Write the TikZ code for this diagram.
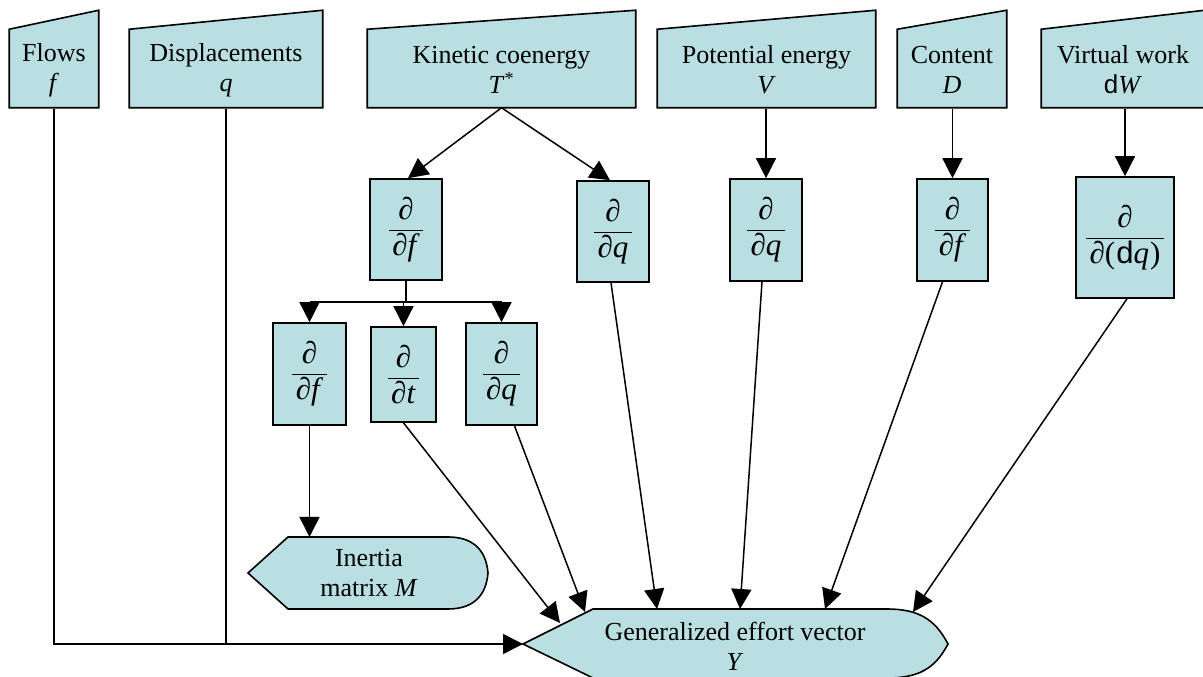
\documentclass[tikz,border=0pt]{standalone}
\usepackage{fontspec}
\setmainfont{Liberation Serif}
\newfontfamily\sansd{Liberation Sans}
\usetikzlibrary{arrows.meta,backgrounds}
\definecolor{boxfill}{RGB}{185,223,227}
\newcommand\dfr[1]{$\displaystyle\frac{\mbox{∂}\rule[-3pt]{0pt}{3pt}}{\mbox{\hspace{3.5pt}∂#1\hspace{3.5pt}}\rule{0pt}{24pt}}$}
\begin{document}
\begin{tikzpicture}[x=1pt,y=1pt,line width=1.5pt,
  inp/.style={inner sep=0pt, minimum height=77pt, align=center, font=\fontsize{26}{30}\selectfont},
  der/.style={draw, fill=boxfill, line width=1.6pt, inner sep=0pt, font=\fontsize{31}{36}\selectfont},
  lbl/.style={inner sep=0pt, align=center, font=\fontsize{26}{30}\selectfont},
  shp/.style={draw, fill=boxfill, line width=1.6pt, line join=miter},
  arr/.style={line width=1.5pt, -{Triangle[length=20pt,width=20pt]}}]
\useasboundingbox (0,0) rectangle (1203,677);

% input (manual input) shapes
\node[inp, minimum width=88pt]  (flows) at (54,607)   {Flows\\\textit{f}};
\node[inp, minimum width=192pt] (disp)  at (226,607)  {Displacements\\\textit{q}};
\node[inp, minimum width=267pt] (kin)   at (501.5,607){Kinetic coenergy\\\textit{T}\textsuperscript{*}};
\node[inp, minimum width=217pt] (pot)   at (766.5,607){Potential energy\\\textit{V}};
\node[inp, minimum width=108pt] (cont)  at (952,607)  {Content\\\textit{D}};
\node[inp, minimum width=162pt] (vw)    at (1123,607) {Virtual work\\{\sansd d}\textit{W}};

% derivative boxes, row 1
\node[der, minimum width=72pt, minimum height=101pt] (d1) at (406,447.5) {\dfr{\textit{f}}};
\node[der, minimum width=72pt, minimum height=101pt] (d2) at (613,445.5) {\dfr{\textit{q}}};
\node[der, minimum width=72pt, minimum height=102pt] (d3) at (766,447)   {\dfr{\textit{q}}};
\node[der, minimum width=71pt, minimum height=102pt] (d4) at (952.5,447) {\dfr{\textit{f}}};
\node[der, minimum width=98pt, minimum height=121pt] (d5) at (1125,439.5) {\dfr{(\hspace{1pt}{\sansd d}\textit{q}\hspace{1pt})}};

% derivative boxes, row 2
\node[der, minimum width=73pt, minimum height=102pt] (r1) at (309.5,303)   {\dfr{\textit{f}}};
\node[der, minimum width=65pt, minimum height=95pt]  (r2) at (403.5,302.5) {\dfr{\textit{t}}};
\node[der, minimum width=71pt, minimum height=102pt] (r3) at (501.5,303)   {\dfr{\textit{q}}};

% outputs (text)
\node[lbl] (inertia) at (369,104) {Inertia\\matrix \textit{M}};
\node[lbl] (out) at (735,31) {Generalized effort vector\\\textit{Y}};

\coordinate (intop)  at (309,140);
\coordinate (outtip) at (523,33);
\coordinate (br)     at (405,375);
\coordinate (oA) at (560,54);
\coordinate (oB) at (585,65);
\coordinate (oC) at (657,68);
\coordinate (oD) at (740,68);
\coordinate (oE) at (825,68);
\coordinate (oF) at (913,65);

\begin{scope}[on background layer]
  \foreach \n in {flows,disp,kin,pot,cont,vw}
    \draw[shp] ([yshift=1.5pt]\n.south west) -- ([yshift=1.5pt]\n.south east) -- ([yshift=20.5pt]\n.north east) -- ([yshift=1.5pt]\n.north west) -- cycle;
  % inertia matrix (display shape)
  \draw[shp] (248,104) -- (288,140) -- (448,140) .. controls (472,140) and (486,128) .. (488,104)
     .. controls (486,80) and (472,68) .. (448,68) -- (288,68) -- cycle;
  % generalized effort vector (display shape)
  \draw[shp] (outtip) -- (593,68) -- (887,68) .. controls (918,68) and (935,58) .. (948,33)
     .. controls (935,8) and (918,-1) .. (887,-1) -- (593,-1) -- cycle;
\end{scope}

% connectors
\draw[arr] ([yshift=1.5pt]kin.south) -- ([xshift=2pt]d1.north);
\draw[arr] ([yshift=1.5pt]kin.south) -- ([xshift=-3pt]d2.north);
\draw[arr] (d3.north |- pot.south) -- (d3.north);
\draw[arr] (d4.north |- cont.south) -- (d4.north);
\draw[arr] (d5.north |- vw.south) -- (d5.north);

\draw (d1.south) -- (d1.south |- br);
\draw (r1.north |- br) -- (r3.north |- br);
\draw[arr] (r1.north |- br) -- (r1.north);
\draw[arr] (r2.north |- br) -- (r2.north);
\draw[arr] (r3.north |- br) -- (r3.north);

\draw[arr] (r1.south) -- (r1.south |- intop);
\draw[arr] (r2.south) -- (oA);
\draw[arr] ([xshift=13pt]r3.south) -- (oB);
\draw[arr] ([xshift=-2pt]d2.south) -- (oC);
\draw[arr] ([xshift=-4pt]d3.south) -- (oD);
\draw[arr] ([xshift=-10pt]d4.south) -- (oE);
\draw[arr] ([xshift=2pt]d5.south) -- (oF);

\draw[arr] (flows.south) |- (outtip);
\draw (disp.south) -- (disp.south |- outtip);
\end{tikzpicture}
\end{document}
